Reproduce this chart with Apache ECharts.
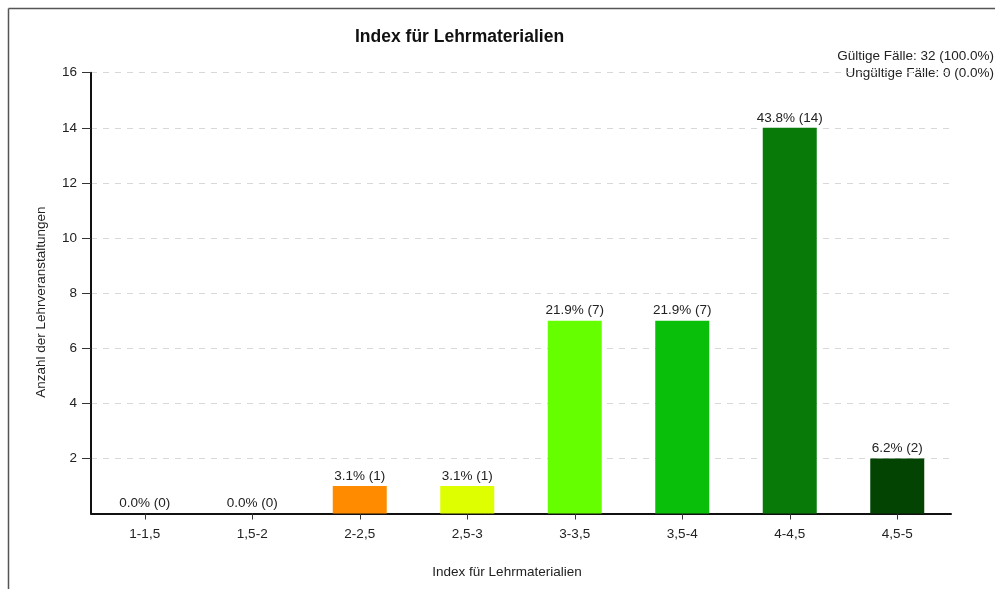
<!DOCTYPE html>
<html>
<head>
<meta charset="utf-8">
<script src="https://cdn.jsdelivr.net/npm/echarts@6/dist/echarts.min.js"></script>
<style>html,body{margin:0;padding:0;background:#fff;}#c{width:995px;height:589px;}</style>
</head>
<body>
<div id="c"></div>
<script>
const categories = ['1-1,5','1,5-2','2-2,5','2,5-3','3-3,5','3,5-4','4-4,5','4,5-5'];
const counts = [0, 0, 1, 1, 7, 7, 14, 2];
const percentLabels = ['0.0%','0.0%','3.1%','3.1%','21.9%','21.9%','43.8%','6.2%'];
const barColors = ['#ff8c00','#ff8c00','#ff8c00','#ddff00','#66ff00','#0abf0a','#087a08','#034403'];
const yTicks = [0, 2, 4, 6, 8, 10, 12, 14, 16];
const infoLines = ['Gültige Fälle: 32 (100.0%)', 'Ungültige Fälle: 0 (0.0%)'];

const FONT = '"Liberation Sans", Arial, sans-serif';
const FS = 13.5;
const chart = echarts.init(document.getElementById('c'), null, {renderer: 'canvas'});
chart.setOption({
  animation: false,
  backgroundColor: '#fff',
  title: {
    text: 'Index für Lehrmaterialien',
    left: 350, top: 23,
    textStyle: {fontFamily: FONT, fontSize: 17.5, fontWeight: 'bold', color: '#111'}
  },
  graphic: [
    {type: 'line', shape: {x1: 8.5, y1: 8.5, x2: 995, y2: 8.5}, style: {stroke: '#555', lineWidth: 1.5}},
    {type: 'line', shape: {x1: 8.5, y1: 8.5, x2: 8.5, y2: 589}, style: {stroke: '#555', lineWidth: 1.5}},
    {type: 'text', right: 1, top: 49, style: {text: infoLines[0], font: FS + 'px ' + FONT, fill: '#222', textAlign: 'right'}},
    {type: 'text', right: 1, top: 66, style: {text: infoLines[1], font: FS + 'px ' + FONT, fill: '#222', textAlign: 'right'}}
  ],
  grid: {left: 91, right: 44, top: 72.7, bottom: 75.5, containLabel: false},
  xAxis: {
    type: 'category',
    data: categories,
    name: 'Index für Lehrmaterialien',
    nameLocation: 'middle',
    nameGap: 52,
    nameTextStyle: {fontFamily: FONT, fontSize: FS, color: '#222', padding: [0, 28, 0, 0]},
    axisLine: {lineStyle: {color: '#111', width: 2}},
    axisTick: {show: true, alignWithLabel: true, length: 6, lineStyle: {color: '#333', width: 1}},
    axisLabel: {fontFamily: FONT, fontSize: FS, color: '#222', margin: 14},
    splitLine: {show: false}
  },
  yAxis: {
    type: 'value',
    min: yTicks[0], max: yTicks[yTicks.length - 1], interval: 2,
    name: 'Anzahl der Lehrveranstaltungen',
    nameLocation: 'middle',
    nameGap: 43,
    nameRotate: 90,
    nameTextStyle: {fontFamily: FONT, fontSize: FS, color: '#222', padding: [0, 18, 0, 0]},
    axisLine: {show: true, lineStyle: {color: '#111', width: 2}},
    axisTick: {show: true, length: 9, customValues: yTicks.slice(1), lineStyle: {color: '#333', width: 1}},
    axisLabel: {fontFamily: FONT, fontSize: FS, color: '#222', margin: 14,
      customValues: yTicks.slice(1)},
    splitLine: {show: true, lineStyle: {color: '#d8d8d8', type: [6, 6], width: 1}}
  },
  series: [{
    type: 'bar',
    barWidth: 54,
    data: counts.map((v, i) => ({value: v, itemStyle: {color: barColors[i]}})),
    label: {
      show: true, position: 'top', distance: 3,
      fontFamily: FONT, fontSize: FS, color: '#222',
      formatter: p => percentLabels[p.dataIndex] + ' (' + counts[p.dataIndex] + ')'
    }
  }]
});
</script>
</body>
</html>
